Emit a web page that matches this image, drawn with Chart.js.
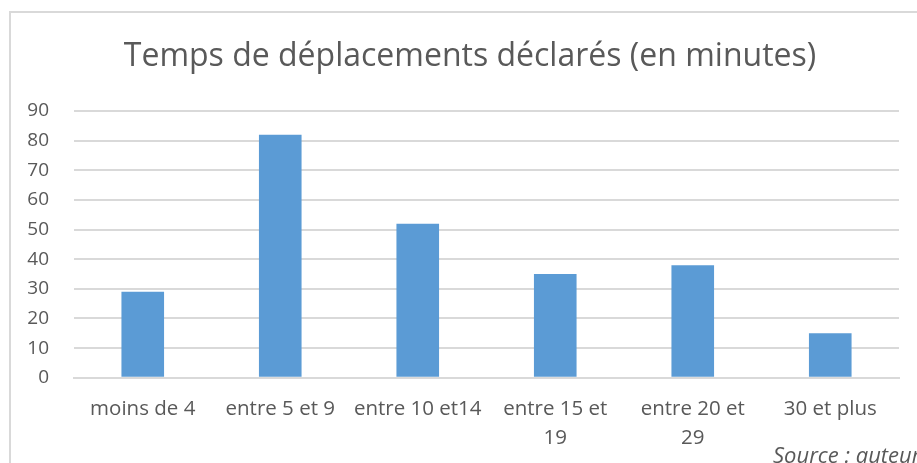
<!DOCTYPE html>
<html lang="fr">
<head>
<meta charset="utf-8">
<title>Temps de déplacements déclarés</title>
<script src="https://cdn.jsdelivr.net/npm/chart.js@4/dist/chart.umd.min.js"></script>
<style>
    html, body { margin: 0; padding: 0; background: #fff; overflow: hidden; }
    body { width: 917px; height: 463px; position: relative; }
    #frame {
        position: absolute; left: 9px; top: 11px; width: 960px; height: 500px;
        border: 2px solid #d9d9d9; box-sizing: border-box;
    }
    #chart { position: absolute; left: 0; top: 0; }
    #source {
        position: absolute; left: 773px; top: 443px; white-space: nowrap;
        font: italic 22px/22px "Open Sans", sans-serif; color: #595959;
    }
</style>
</head>
<body>
<div id="frame"></div>
<canvas id="chart" width="917" height="480"></canvas>
<div id="source">Source : auteur</div>
<script>
// durées déclarées, en minutes
let categories = [
    'moins de 4',
    'entre 5 et 9',
    'entre 10 et14',
    ['entre 15 et', '19'],
    ['entre 20 et', '29'],
    '30 et plus'
];
let counts = [29, 82, 52, 35, 38, 15];
let y_ticks = [0, 10, 20, 30, 40, 50, 60, 70, 80, 90];
let title_txt = 'Temps de déplacements déclarés (en minutes)';

const txt_col = '#595959';
const grid_col = '#d9d9d9';
const font_nm = '"Open Sans", sans-serif';

// titre posé à la main, un peu à gauche du centre de la zone de tracé
const title_plugin = {
    id: 'title_plugin',
    afterDraw(chart) {
        let ctx = chart.ctx;
        ctx.save();
        ctx.fillStyle = txt_col;
        ctx.font = `32px ${font_nm}`;
        ctx.textAlign = 'center';
        ctx.textBaseline = 'alphabetic';
        ctx.fillText(title_txt, 470, 66);
        ctx.restore();
    }
};

let chart = new Chart(document.getElementById('chart').getContext('2d'), {
    type: 'bar',
    data: {
        labels: categories,
        datasets: [{
            data: counts,
            backgroundColor: '#5b9bd5',
            barPercentage: 0.62,
            categoryPercentage: 0.5
        }]
    },
    options: {
        responsive: false,
        animation: false,
        layout: {padding: {left: 0, right: 18, top: 111, bottom: 10}},
        plugins: {
            legend: {display: false},
            tooltip: {enabled: false},
            title: {display: false}
        },
        scales: {
            x: {
                grid: {display: false, drawTicks: false},
                border: {display: true, color: grid_col, width: 2},
                ticks: {
                    color: txt_col,
                    font: {family: font_nm, size: 20.5, lineHeight: 1.42},
                    padding: 17,
                    maxRotation: 0,
                    autoSkip: false
                }
            },
            y: {
                min: 0,
                max: 90,
                afterBuildTicks: function (axis) {
                    axis.ticks = y_ticks.map(v => ({value: v}));
                },
                afterFit: function (axis) {
                    axis.width = 74;
                },
                grid: {color: grid_col, lineWidth: 2, drawTicks: false},
                border: {display: false},
                ticks: {
                    color: txt_col,
                    font: {family: font_nm, size: 19},
                    padding: 25
                }
            }
        }
    },
    plugins: [title_plugin]
});
</script>
</body>
</html>
